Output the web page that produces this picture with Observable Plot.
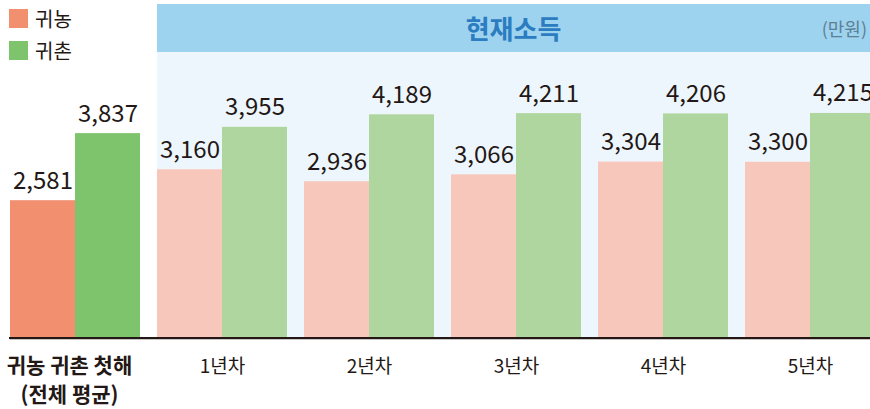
<!DOCTYPE html>
<html><head><meta charset="utf-8">
<script src="https://cdn.jsdelivr.net/npm/d3@7"></script>
<script src="https://cdn.jsdelivr.net/npm/@observablehq/plot@0.6"></script>
<style>
  html,body{margin:0;padding:0;background:#fff;}
  #wrap{position:relative;width:870px;height:409px;overflow:hidden;font-family:"Noto Sans CJK KR","Noto Sans",sans-serif;color:#231815;}
  #header{position:absolute;left:157px;top:4px;width:713px;height:48px;background:#9DD3EF;}
  #title{position:absolute;left:0;right:0;top:0;height:48px;line-height:48px;text-align:center;font-weight:bold;font-size:26px;color:#2B7CC0;}
  #unit{position:absolute;right:3px;top:0;height:48px;line-height:48px;font-size:18px;color:#5E8094;}
  #panel{position:absolute;left:157px;top:52px;width:713px;height:286px;background:#EEF6FD;}
  #legend{position:absolute;left:9px;top:9px;font-size:20px;}
  .li{display:flex;align-items:center;height:19px;margin-bottom:13px;}
  .sw{width:19px;height:19px;margin-right:7px;}
  #chart{position:absolute;left:0;top:0;}
  #baseline{position:absolute;left:9px;top:337px;width:861px;height:1.5px;background:#231815;}
</style>
</head><body>
<div id="wrap">
  <div id="header"><div id="title"></div><div id="unit"></div></div>
  <div id="panel"></div>
  <div id="legend"></div>
  <div id="chart"></div>
  <div id="baseline"></div>
</div>
<script>
const title = "현재소득";
const unit = "(만원)";
const groups = ["귀농 귀촌 첫해\n(전체 평균)", "1년차", "2년차", "3년차", "4년차", "5년차"];
const series = ["귀농", "귀촌"];
const gwinong = [2581, 3160, 2936, 3066, 3304, 3300];
const gwichon = [3837, 3955, 4189, 4211, 4206, 4215];
const darkColors = ["#F18F6F", "#7EC46C"];
const lightColors = ["#F8C7BB", "#AFD69E"];

document.getElementById("title").textContent = title;
document.getElementById("unit").textContent = unit;
document.getElementById("legend").innerHTML = series.map((s, i) =>
  `<div class="li"><div class="sw" style="background:${darkColors[i]}"></div><span>${s}</span></div>`).join("");

const data = groups.flatMap((g, i) => [
  {group: g, series: series[0], value: gwinong[i], color: i === 0 ? darkColors[0] : lightColors[0]},
  {group: g, series: series[1], value: gwichon[i], color: i === 0 ? darkColors[1] : lightColors[1]}
]);

const chart = Plot.plot({
  width: 870, height: 409,
  marginTop: 0, marginBottom: 71, marginLeft: 9, marginRight: -6,
  style: {fontFamily: '"Noto Sans CJK KR","Noto Sans",sans-serif', background: "transparent", color: "#231815"},
  fx: {domain: groups, paddingInner: 0.118, paddingOuter: 0, axis: null},
  x: {domain: series, padding: 0, axis: null},
  y: {domain: [0, 6330], axis: null},
  color: {type: "identity"},
  marks: [
    Plot.barY(data, {fx: "group", x: "series", y: "value", fill: "color"}),
    Plot.frame({anchor: "bottom", facet: "super", stroke: "#231815", strokeWidth: 1.5}),
    Plot.text(data, {fx: "group", x: "series", y: "value", text: d => d3.format(",")(d.value),
      lineAnchor: "bottom", dy: -12, fontSize: 24, fill: "#231815"}),
    Plot.text(groups.slice(0, 1), {fx: d => d, text: d => d.split("\n")[0], frameAnchor: "bottom", dy: 28, dx: -6,
      lineAnchor: "middle", fontSize: 21, letterSpacing: 1.2, fontWeight: "bold", fill: "#231815"}),
    Plot.text(groups.slice(0, 1), {fx: d => d, text: d => d.split("\n")[1], frameAnchor: "bottom", dy: 57, dx: -6,
      lineAnchor: "middle", fontSize: 21, letterSpacing: 1.2, fontWeight: "bold", fill: "#231815"}),
    Plot.text(groups.slice(1), {fx: d => d, text: d => d, frameAnchor: "bottom", dy: 28,
      lineAnchor: "middle", fontSize: 19, fill: "#231815"})
  ]
});
document.getElementById("chart").appendChild(chart);
</script>
</body></html>
